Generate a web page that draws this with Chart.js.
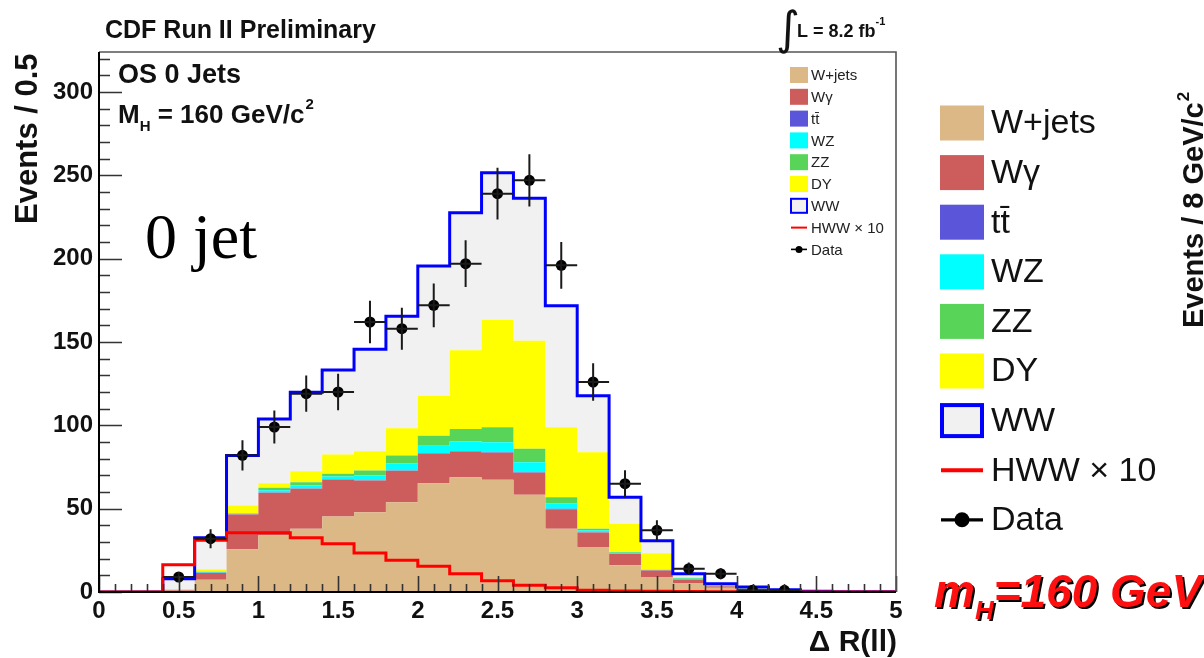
<!DOCTYPE html>
<html>
<head>
<meta charset="utf-8">
<script src="https://cdn.jsdelivr.net/npm/chart.js@4.4.1/dist/chart.umd.min.js"></script>
<style>
  html, body { margin: 0; padding: 0; background: #fff; }
  canvas { display: block; }
</style>
</head>
<body>
<canvas id="c" width="1204" height="658"></canvas>
<script>
// ΔR(ll) histogram, OS 0 jets, M_H = 160 GeV/c^2 (25 bins of 0.2)
const binEdges = [0, 0.2, 0.4, 0.6, 0.8, 1.0, 1.2, 1.4, 1.6, 1.8, 2.0, 2.2, 2.4, 2.6, 2.8,
                  3.0, 3.2, 3.4, 3.6, 3.8, 4.0, 4.2, 4.4, 4.6, 4.8, 5.0];

// background expectations per bin (stacked, bottom to top)
const wjets  = [0, 0, 0.8, 7.4, 25.6, 34.0, 38.0, 45.3, 47.9, 53.9, 65.3, 68.9, 67.4, 58.3, 38.0, 27.0, 16.0, 9.0, 5.4, 2.6, 1.2, 0.5, 0.2, 0.1, 0.1];
const wgamma = [0, 0, 0.4, 4.0, 20.9, 25.5, 23.9, 22.2, 19.0, 18.8, 17.6, 15.2, 16.1, 13.3, 11.7, 8.7, 6.9, 3.9, 2.0, 0.8, 0.5, 0.2, 0.1, 0, 0];
const ttbar  = [0, 0, 0, 0.1, 0.1, 0.2, 0.2, 0.2, 0.2, 0.2, 0.3, 0.3, 0.3, 0.3, 0.2, 0.2, 0.1, 0.1, 0.1, 0, 0, 0, 0, 0, 0];
const wz     = [0, 0, 0.1, 0.3, 0.4, 1.3, 1.8, 1.6, 2.8, 4.4, 4.6, 6.0, 6.0, 5.9, 3.4, 1.1, 0.5, 0.2, 0.4, 0.2, 0.1, 0.05, 0, 0, 0];
const zz     = [0, 0, 0.1, 0.3, 0.3, 1.5, 2.0, 1.6, 3.0, 4.6, 6.0, 7.4, 9.0, 8.1, 3.6, 1.0, 0.5, 0.2, 0.5, 0.2, 0.1, 0.05, 0, 0, 0];
const dy     = [0, 0, 0.4, 1.5, 4.6, 2.8, 6.6, 11.6, 11.5, 16.3, 24.0, 47.3, 64.5, 64.8, 41.9, 45.8, 17.0, 9.8, 0.6, 0.2, 0.3, 0.2, 0.1, 0, 0];
const ww     = [0, 0, 6.2, 19.0, 30.0, 38.5, 47.3, 50.7, 61.3, 67.3, 77.8, 82.4, 88.2, 85.5, 72.9, 34.0, 15.9, 7.6, 2.0, 1.0, 0.8, 0.4, 0.1, 0.1, 0.1];

// signal (x10), drawn as a line on its own
const hww10  = [0, 0, 16.4, 31.0, 35.5, 35.5, 32.5, 29.0, 23.4, 19.0, 15.4, 11.0, 6.8, 4.0, 2.6, 1.0, 0.6, 0.4, 0.3, 0.2, 0.1, 0.1, 0, 0, 0];

// observed events and their uncertainties
const dataCounts = [null, null, 9, 32, 82, 99, 119, 120, 162, 158, 172, 197, 239, 247, 196, 126, 65, 37, 14, 11, 1, 1, null, null, null];
const dataErrors = [0, 0, 3.0, 5.7, 9.1, 9.9, 10.9, 11.0, 12.7, 12.6, 13.1, 14.0, 15.5, 15.7, 14.0, 11.2, 8.1, 6.1, 3.7, 3.3, 1.0, 1.0, 0, 0, 0];

const xTickValues = [0, 0.5, 1, 1.5, 2, 2.5, 3, 3.5, 4, 4.5, 5];
const yTickValues = [0, 50, 100, 150, 200, 250, 300];
const yMax = 324;

const components = [
  { label: 'W+jets', values: wjets,  color: '#dcb887' },
  { label: 'Wγ',     values: wgamma, color: '#cd5c5c' },
  { label: 'tt\u0304', values: ttbar, color: '#5a55d9' },
  { label: 'WZ',     values: wz,     color: '#00ffff' },
  { label: 'ZZ',     values: zz,     color: '#58d458' },
  { label: 'DY',     values: dy,     color: '#ffff00' },
  { label: 'WW',     values: ww,     color: '#f1f1f1', outline: '#0000ff' }
];

// histogram contour: one point per lower bin edge plus the closing upper edge
function stepPoints(vals) {
  const pts = vals.map((v, i) => ({ x: binEdges[i], y: v }));
  pts.push({ x: binEdges[vals.length], y: vals[vals.length - 1] });
  return pts;
}

const mcTotal = wjets.map((_, i) => components.reduce((s, c) => s + c.values[i], 0));

const datasets = components.map((c, i) => ({
  label: c.label,
  data: stepPoints(c.values),
  stepped: true,
  stack: 'mc',
  fill: i === 0 ? 'origin' : '-1',
  backgroundColor: c.color,
  borderColor: 'rgba(0,0,0,0)',
  borderWidth: 0,
  pointRadius: 0
}));

datasets.push({
  label: 'WW total',
  data: stepPoints(mcTotal),
  stepped: true,
  stack: 'outline',
  fill: false,
  borderColor: '#0000ff',
  borderWidth: 3,
  pointRadius: 0,
  order: -1
});

datasets.push({
  label: 'HWW × 10',
  data: stepPoints(hww10),
  stepped: true,
  stack: 'signal',
  fill: false,
  borderColor: '#ff0000',
  borderWidth: 3,
  pointRadius: 0,
  order: -2
});

const dataPoints = [];
dataCounts.forEach((n, i) => {
  if (n !== null) dataPoints.push({ x: (binEdges[i] + binEdges[i + 1]) / 2, y: n });
});

datasets.push({
  label: 'Data',
  data: dataPoints,
  stack: 'observed',
  showLine: false,
  fill: false,
  pointRadius: 5.5,
  pointHoverRadius: 5.5,
  pointBackgroundColor: '#000',
  pointBorderColor: '#000',
  pointBorderWidth: 0,
  order: -3
});

const SANS = '"Liberation Sans", Arial, Helvetica, sans-serif';

function text(ctx, s, x, y, font, color, align) {
  ctx.font = font;
  ctx.fillStyle = color || '#000';
  ctx.textAlign = align || 'left';
  ctx.textBaseline = 'alphabetic';
  ctx.fillText(s, x, y);
  return ctx.measureText(s).width;
}

// frame, inward tick marks, error bars
const decorations = {
  id: 'decorations',
  afterDatasetsDraw(chart) {
    const { ctx, chartArea: a, scales: { x, y } } = chart;
    ctx.save();

    // error bars on the observed points
    ctx.strokeStyle = '#1a1a1a';
    ctx.lineWidth = 2;
    dataCounts.forEach((n, i) => {
      if (n === null) return;
      const xc = x.getPixelForValue((binEdges[i] + binEdges[i + 1]) / 2);
      const yc = y.getPixelForValue(n);
      ctx.beginPath();
      ctx.moveTo(x.getPixelForValue(binEdges[i]), yc);
      ctx.lineTo(x.getPixelForValue(binEdges[i + 1]), yc);
      ctx.moveTo(xc, y.getPixelForValue(n + dataErrors[i]));
      ctx.lineTo(xc, y.getPixelForValue(Math.max(0, n - dataErrors[i])));
      ctx.stroke();
    });

    // tick marks pointing into the plot
    ctx.strokeStyle = '#333';
    ctx.lineWidth = 1.6;
    ctx.beginPath();
    for (let v = 0; v <= yMax; v += 10) {
      const py = Math.round(y.getPixelForValue(v)) + 0.5;
      const len = v % 50 === 0 ? 23 : 11;
      ctx.moveTo(a.left, py);
      ctx.lineTo(a.left + len, py);
    }
    for (let k = 0; k <= 50; k++) {
      const px = Math.round(x.getPixelForValue(k / 10)) + 0.5;
      const len = k % 5 === 0 ? 16 : 8;
      ctx.moveTo(px, a.bottom);
      ctx.lineTo(px, a.bottom - len);
    }
    ctx.stroke();

    // frame
    ctx.strokeStyle = '#555';
    ctx.lineWidth = 1.6;
    ctx.beginPath();
    ctx.moveTo(a.left, a.top);
    ctx.lineTo(a.right, a.top);
    ctx.lineTo(a.right, a.bottom);
    ctx.stroke();
    ctx.strokeStyle = '#000';
    ctx.lineWidth = 2;
    ctx.beginPath();
    ctx.moveTo(a.left, a.top);
    ctx.lineTo(a.left, a.bottom);
    ctx.lineTo(a.right, a.bottom);
    ctx.stroke();
    ctx.restore();
  },

  afterDraw(chart) {
    const ctx = chart.ctx;
    ctx.save();

    // header
    text(ctx, 'CDF Run II Preliminary', 105, 38, `bold 25px ${SANS}`, '#111');
    text(ctx, '\u222B', 776, 44, '46px "DejaVu Sans"', '#111');
    let w = text(ctx, 'L = 8.2 fb', 797, 37, `bold 18px ${SANS}`, '#111');
    text(ctx, '-1', 797 + w, 25, `bold 11px ${SANS}`, '#111');

    // in-frame captions
    text(ctx, 'OS 0 Jets', 118, 83, `bold 27px ${SANS}`, '#111');
    w = text(ctx, 'M', 118, 123, `bold 26px ${SANS}`, '#111');
    let xx = 118 + w;
    w = text(ctx, 'H', xx, 131, `bold 15px ${SANS}`, '#111');
    xx += w;
    w = text(ctx, ' = 160 GeV/c', xx, 123, `bold 26px ${SANS}`, '#111');
    xx += w;
    text(ctx, '2', xx + 1, 109, `bold 15px ${SANS}`, '#111');

    text(ctx, '0 jet', 145, 258, '64px "Liberation Serif", "Times New Roman", serif', '#000');

    // axis titles
    ctx.save();
    ctx.translate(37, 224);
    ctx.rotate(-Math.PI / 2);
    text(ctx, 'Events / 0.5', 0, 0, `bold 31px ${SANS}`, '#111');
    ctx.restore();
    text(ctx, '\u0394 R(ll)', 897, 651, `bold 30px ${SANS}`, '#111', 'right');

    // neighbouring panel's axis title, cut by the page edge
    ctx.save();
    ctx.translate(1203, 328);
    ctx.rotate(-Math.PI / 2);
    w = text(ctx, 'Events / 8 GeV/c', 0, 0, `bold 29px ${SANS}`, '#111');
    text(ctx, '2', w + 1, -14, `bold 17px ${SANS}`, '#111');
    ctx.restore();

    // legends
    const entries = components.map(c => ({ kind: 'box', label: c.label, color: c.color, outline: c.outline }));
    entries.push({ kind: 'line', label: 'HWW \u00D7 10', color: '#ff0000' });
    entries.push({ kind: 'marker', label: 'Data', color: '#000' });

    function legend(o) {
      entries.forEach((e, i) => {
        const cy = o.y0 + i * o.step;
        ctx.save();
        if (e.kind === 'box') {
          ctx.fillStyle = e.color;
          ctx.fillRect(o.x, cy - o.bh / 2, o.bw, o.bh);
          if (e.outline) {
            ctx.strokeStyle = e.outline;
            ctx.lineWidth = o.lw;
            ctx.strokeRect(o.x + o.lw / 2, cy - o.bh / 2 + o.lw / 2, o.bw - o.lw, o.bh - o.lw);
          }
        } else {
          ctx.strokeStyle = e.color;
          ctx.lineWidth = e.kind === 'line' ? o.lw : o.lw * 0.8;
          ctx.beginPath();
          ctx.moveTo(o.x + 1, cy);
          ctx.lineTo(o.x + o.bw - 1, cy);
          ctx.stroke();
          if (e.kind === 'marker') {
            ctx.fillStyle = e.color;
            ctx.beginPath();
            ctx.arc(o.x + o.bw / 2, cy, o.r, 0, Math.PI * 2);
            ctx.fill();
          }
        }
        ctx.restore();
        ctx.font = o.font;
        ctx.fillStyle = o.color;
        ctx.textAlign = 'left';
        ctx.textBaseline = 'middle';
        ctx.fillText(e.label, o.x + o.bw + o.gap, cy + 1);
      });
    }

    legend({ x: 790, y0: 75, step: 21.8, bw: 18, bh: 16, gap: 3, lw: 2, r: 3.5,
             font: `15px ${SANS}`, color: '#222' });
    legend({ x: 940, y0: 123, step: 49.6, bw: 44, bh: 35, gap: 7, lw: 4, r: 7.5,
             font: `34px ${SANS}`, color: '#111' });

    // mass label
    ctx.font = `italic bold 46px ${SANS}`;
    const parts = [['m', 0], ['H', 1], ['=160 GeV', 0]];
    let px = 934;
    const drawn = [];
    parts.forEach(([s, sub]) => {
      ctx.font = sub ? `italic bold 26px ${SANS}` : `italic bold 46px ${SANS}`;
      drawn.push([s, px, sub ? 619 : 607, ctx.font]);
      px += ctx.measureText(s).width;
    });
    drawn.forEach(([s, x0, y0, f]) => text(ctx, s, x0 + 2, y0 + 2, f, '#000'));
    drawn.forEach(([s, x0, y0, f]) => text(ctx, s, x0, y0, f, '#ff1010'));

    ctx.restore();
  }
};

new Chart(document.getElementById('c'), {
  type: 'line',
  data: { datasets },
  options: {
    responsive: false,
    animation: false,
    devicePixelRatio: 1,
    layout: { padding: { left: 0, top: 52, right: 308, bottom: 0 } },
    plugins: { legend: { display: false }, tooltip: { enabled: false } },
    scales: {
      x: {
        type: 'linear', min: 0, max: 5,
        grid: { display: false, drawTicks: false },
        border: { display: false },
        ticks: {
          font: { family: 'Liberation Sans', size: 24, weight: 'bold' },
          color: '#111', padding: 5, autoSkip: false, maxRotation: 0,
          callback: v => String(v)
        },
        afterBuildTicks: s => { s.ticks = xTickValues.map(v => ({ value: v })); },
        afterFit: s => { s.height = 66; }
      },
      y: {
        type: 'linear', min: 0, max: yMax, stacked: true,
        grid: { display: false, drawTicks: false },
        border: { display: false },
        ticks: {
          font: { family: 'Liberation Sans', size: 24, weight: 'bold' },
          color: '#111', padding: 6,
          callback: v => String(v)
        },
        afterBuildTicks: s => { s.ticks = yTickValues.map(v => ({ value: v })); },
        afterFit: s => { s.width = 99; }
      }
    }
  },
  plugins: [decorations]
});
</script>
</body>
</html>
